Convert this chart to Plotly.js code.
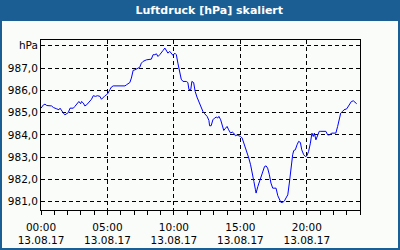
<!DOCTYPE html>
<html>
<head>
<meta charset="utf-8">
<script src="https://cdn.plot.ly/plotly-3.0.1.min.js"></script>
<style>html,body{margin:0;padding:0;background:#fff;}#chart{width:400px;height:250px;}</style>
</head>
<body>
<div id="chart"></div>
<script>
const day = '2017-08-13';
const times = ['00:00','00:11','00:18','00:26','00:48','00:56','01:11','01:21','01:26','01:33','01:41','01:48','01:56','02:03','02:11','02:26','02:33','02:45','02:51','02:59','03:03','03:11','03:18','03:26','03:33','03:41','03:48','03:56','04:06','04:15','04:26','04:33','04:41','04:49','04:56','05:03','05:11','05:18','05:26','06:19','06:26','06:41','06:48','06:56','07:04','07:11','07:18','07:26','07:33','07:41','07:56','08:11','08:18','08:26','08:34','08:41','08:48','08:56','09:03','09:11','09:19','09:26','09:33','09:41','09:48','09:56','10:04','10:11','10:18','10:26','10:33','10:41','10:56','11:03','11:08','11:16','11:21','11:29','11:36','11:44','11:56','12:11','12:19','12:30','12:38','12:41','12:48','12:56','13:04','13:11','13:18','13:23','13:31','13:38','13:45','13:53','14:00','14:07','14:16','14:23','14:30','14:38','14:45','14:53','15:01','15:08','15:16','15:23','15:30','15:38','15:46','15:53','16:01','16:08','16:11','16:19','16:26','16:33','16:41','16:49','16:56','17:03','17:11','17:18','17:26','17:41','17:49','17:56','18:03','18:11','18:19','18:26','18:34','18:41','18:46','18:52','18:56','19:01','19:08','19:16','19:23','19:31','19:37','19:46','19:53','20:00','20:08','20:16','20:23','20:29','20:34','20:41','20:49','20:56','21:03','21:26','21:34','21:41','21:53','22:11','22:19','22:26','22:33','22:41','22:48','23:00','23:08','23:15','23:21','23:30','23:38','23:45'];
const pressure = [985.2,985.35,985.38,985.32,985.3,985.23,985.17,985.13,985.2,985.08,984.98,984.9,984.95,985.0,985.2,985.2,985.28,985.43,985.5,985.4,985.5,985.43,985.3,985.35,985.43,985.5,985.6,985.76,985.73,985.76,985.73,985.6,985.7,985.76,985.8,985.88,986.03,986.15,986.2,986.2,986.25,986.35,986.55,986.9,986.92,986.95,987.0,987.04,987.22,987.3,987.37,987.4,987.4,987.6,987.6,987.64,987.52,987.6,987.67,987.79,987.9,987.79,987.67,987.75,987.64,987.57,987.67,987.6,987.22,986.85,986.5,986.4,986.4,986.35,986.03,986.03,986.4,986.35,985.95,985.7,985.4,985.05,984.95,984.83,984.65,984.41,984.41,984.68,984.76,984.8,984.76,984.83,984.68,984.38,984.2,984.3,984.38,984.23,984.08,984.13,984.08,983.96,984.0,983.96,983.93,983.86,983.63,983.41,983.19,982.96,982.66,982.36,981.91,981.54,981.39,981.69,981.91,982.06,982.36,982.58,982.61,982.51,982.21,981.84,981.61,981.61,981.27,981.09,980.97,980.97,981.04,981.17,981.31,981.84,982.29,982.81,983.11,983.3,983.33,983.56,983.71,983.66,983.33,983.11,983.03,983.06,983.26,983.63,984.08,983.93,984.08,983.78,984.0,984.16,984.16,984.16,984.0,984.0,984.08,984.08,984.38,984.76,984.98,985.05,985.13,985.17,985.28,985.38,985.5,985.53,985.45,985.4];
const yTickVals = [981,982,983,984,985,986,987,988];
const yTickText = ['981,0','982,0','983,0','984,0','985,0','986,0','987,0','hPa'];
const titleText = 'Luftdruck [hPa] skaliert';

const W = 400, H = 250, mL = 41, mR = 40, mT = 40, mB = 40;
const pw = W - mL - mR, ph = H - mT - mB;
const px = v => (v - mL) / pw;
const py = v => 1 - (v - mT) / ph;

const trace = {
  x: times.map(t => day + ' ' + t),
  y: pressure,
  type: 'scatter',
  mode: 'lines',
  line: {color: '#0000ff', width: 1},
  hoverinfo: 'skip'
};

const layout = {
  width: W, height: H,
  margin: {l: mL, r: mR, t: mT, b: mB, pad: 0},
  paper_bgcolor: '#1b5e94',
  plot_bgcolor: '#fafcfa',
  showlegend: false,
  font: {family: 'DejaVu Sans, sans-serif', size: 10.5, color: '#000'},
  title: {text: '<b>' + titleText + '</b>', x: 211 / W, xanchor: 'center', xref: 'paper',
          y: 1 - 10.5 / H, yanchor: 'middle', yref: 'container',
          font: {family: 'DejaVu Sans, sans-serif', size: 11, color: '#ffffff'}},
  xaxis: {
    type: 'date',
    range: [day + ' 00:00', '2017-08-14 00:00'],
    tick0: day + ' 00:00', dtick: 5 * 3600000,
    tickformat: '%H:%M<br>%d.%m.%y',
    showgrid: true, gridcolor: '#000', gridwidth: 1, griddash: '4px,3px',
    showline: true, linecolor: '#000', linewidth: 1, mirror: true,
    ticks: 'outside', ticklen: 4, tickcolor: '#000', tickwidth: 1,
    ticklabelstandoff: 3,
    minor: {dtick: 3600000, tick0: day + ' 00:00', ticks: 'outside', ticklen: 4, tickcolor: '#000', showgrid: false},
    zeroline: false, fixedrange: true,
    tickfont: {size: 10.5, color: '#000'}
  },
  yaxis: {
    range: [980.63, 988.26],
    tickvals: yTickVals, ticktext: yTickText,
    showgrid: true, gridcolor: '#000', gridwidth: 1, griddash: '4px,3px',
    showline: true, linecolor: '#000', linewidth: 1, mirror: true,
    ticks: '', zeroline: false, fixedrange: true,
    tickfont: {size: 10.5, color: '#000'}
  },
  shapes: [{
    type: 'rect', xref: 'paper', yref: 'paper', layer: 'below',
    x0: px(2), x1: px(398), y0: py(248), y1: py(21),
    fillcolor: '#fafcfa', line: {width: 0}
  }]
};

Plotly.newPlot('chart', [trace], layout, {displayModeBar: false, staticPlot: true});
</script>
</body>
</html>
